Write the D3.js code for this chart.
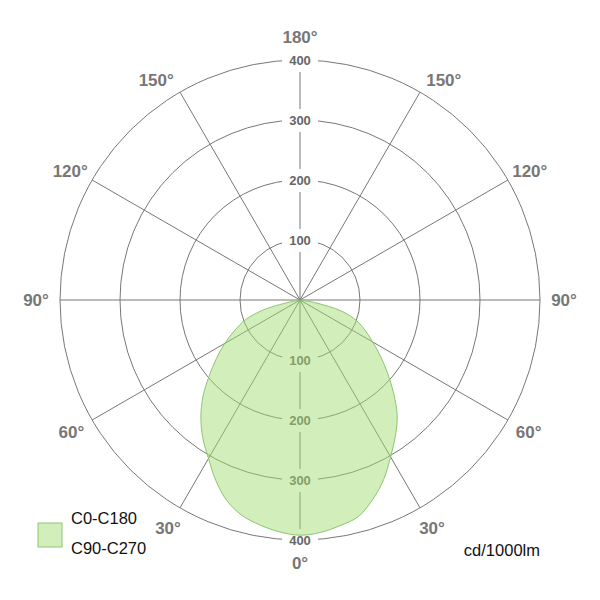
<!DOCTYPE html>
<html>
<head>
<meta charset="utf-8">
<script src="https://cdn.jsdelivr.net/npm/d3@7"></script>
<style>
  body { margin: 0; background: #fff; }
  svg { display: block; font-family: "Liberation Sans", Arial, Helvetica, sans-serif; }
</style>
</head>
<body>
<svg id="chart" width="600" height="600"></svg>
<script>
// gamma angles (deg, 0 = straight down) and intensities in cd/1000lm
const gammaDeg = [0, 5, 10, 15, 20, 25, 30, 35, 40, 45, 50, 55, 60, 65, 70, 75, 80, 85, 90];
const intensityC0 = [392, 389, 382, 374, 354, 330, 302, 277, 252, 221, 191, 164, 140, 120, 100, 72, 25, 0, 0];
const intensityC180 = [392, 388, 381, 372, 356, 332, 305, 282, 257, 229, 198, 170, 145, 120, 97, 62, 12, 0, 0];

const ringValues = [100, 200, 300, 400];
const spokeAngles = [0, 30, 60, 90, 120, 150, 180, 210, 240, 270, 300, 330];
// where each angle label sits (deg from downward), and its text
const labelAngles = [0, 30, 60, 90, 119.5, 147, 180, 213, 240.5, 270, 300, 330];
const angleLabels = [0, 30, 60, 90, 120, 150, 180, 150, 120, 90, 60, 30];
const legendNames = ["C0-C180", "C90-C270"];
const unitLabel = "cd/1000lm";

const svg = d3.select("#chart");
const cx = 300, cy = 300;
const r = d3.scaleLinear().domain([0, 400]).range([0, 240]);
const rad = d => d * Math.PI / 180;

const g = svg.append("g").attr("transform", `translate(${cx},${cy})`);

// rings
g.selectAll("circle.ring")
  .data(ringValues)
  .join("circle")
  .attr("class", "ring")
  .attr("r", d => r(d))
  .attr("fill", "none")
  .attr("stroke", "#777")
  .attr("stroke-width", 1);

// spokes, angle measured from downward direction
g.selectAll("line.spoke")
  .data(spokeAngles)
  .join("line")
  .attr("class", "spoke")
  .attr("x1", 0).attr("y1", 0)
  .attr("x2", d => r(400) * Math.sin(rad(d)))
  .attr("y2", d => r(400) * Math.cos(rad(d)))
  .attr("stroke", "#777")
  .attr("stroke-width", 1);

// ring value labels on vertical axis, up and down
const tickData = [];
ringValues.forEach(v => { tickData.push({ v: v, y: -r(v) }); tickData.push({ v: v, y: r(v) }); });

g.selectAll("rect.tickbg")
  .data(tickData)
  .join("rect")
  .attr("x", -18).attr("y", d => d.y - 11)
  .attr("width", 36).attr("height", 23)
  .attr("fill", "#fff");

g.selectAll("text.tick")
  .data(tickData)
  .join("text")
  .attr("x", 0).attr("y", d => d.y)
  .attr("dy", "0.36em")
  .attr("text-anchor", "middle")
  .attr("font-size", 13)
  .attr("font-weight", "bold")
  .attr("fill", "#666")
  .text(d => d.v);

// angle labels
g.selectAll("text.angle")
  .data(labelAngles)
  .join("text")
  .attr("x", d => 264 * Math.sin(rad(d)))
  .attr("y", d => 263 * Math.cos(rad(d)))
  .attr("dy", "0.36em")
  .attr("text-anchor", "middle")
  .attr("font-size", 17)
  .attr("font-weight", "bold")
  .attr("fill", "#777")
  .text((d, i) => angleLabels[i] + "°");

// light distribution curve: left half (C180) then right half (C0)
const pts = [];
for (let i = gammaDeg.length - 1; i >= 0; i--) {
  pts.push([Math.PI + rad(gammaDeg[i]), r(intensityC180[i])]);
}
for (let i = 1; i < gammaDeg.length; i++) {
  pts.push([Math.PI - rad(gammaDeg[i]), r(intensityC0[i])]);
}

const line = d3.lineRadial()
  .angle(d => d[0])
  .radius(d => d[1])
  .curve(d3.curveCatmullRom.alpha(0.5));

g.append("path")
  .attr("d", line(pts) + "Z")
  .attr("fill", "rgba(160,220,110,0.48)")
  .attr("stroke", "#8cc672")
  .attr("stroke-width", 1);

// legend
svg.append("rect")
  .attr("x", 38).attr("y", 523)
  .attr("width", 24).attr("height", 24)
  .attr("fill", "rgba(160,220,110,0.48)")
  .attr("stroke", "#8cc672")
  .attr("stroke-width", 1);

svg.selectAll("text.legend")
  .data(legendNames)
  .join("text")
  .attr("x", 71)
  .attr("y", (d, i) => 524 + i * 30)
  .attr("font-size", 16.5)
  .attr("fill", "#111")
  .text(d => d);

svg.append("text")
  .attr("x", 540).attr("y", 556)
  .attr("text-anchor", "end")
  .attr("font-size", 16.5)
  .attr("fill", "#111")
  .text(unitLabel);
</script>
</body>
</html>
